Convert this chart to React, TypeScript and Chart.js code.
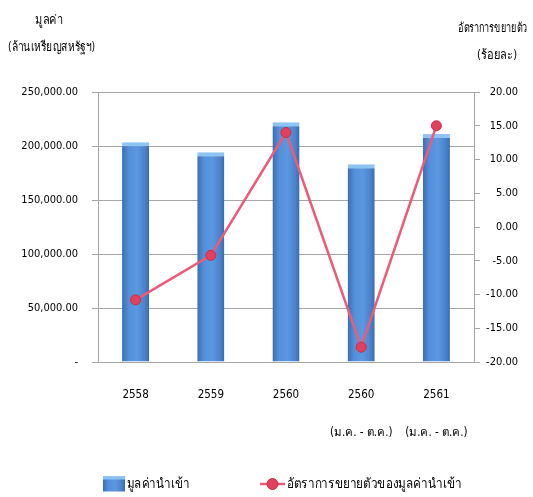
import React, { useEffect, useRef } from 'react';
import { Chart, registerables } from 'chart.js';

Chart.register(...registerables);

const categories: string[][] = [
  ['2558'],
  ['2559'],
  ['2560'],
  ['2560', '(ม.ค. - ต.ค.)'],
  ['2561', '(ม.ค. - ต.ค.)'],
];
const importValues = [203500, 194200, 221900, 183000, 211000];
const growthRates = [-10.8, -4.2, 14.0, -17.8, 15.0];

const barLabel = 'มูลค่านำเข้า';
const lineLabel = 'อัตราการขยายตัวของมูลค่านำเข้า';
const leftTitle = ['มูลค่า', '(ล้านเหรียญสหรัฐฯ)'];
const rightTitle = ['อัตราการขยายตัว', '(ร้อยละ)'];

const FONT = '"DejaVu Sans Condensed", "Liberation Sans Narrow", "Liberation Sans", sans-serif';
const TEXT = '#000000';
const GRID = '#a6a6a6';
const LINE = '#ee5a77';

function barGradient(c: CanvasRenderingContext2D, x0: number, x1: number) {
  const g = c.createLinearGradient(x0, 0, x1, 0);
  g.addColorStop(0, '#3a6db3');
  g.addColorStop(0.25, '#5490da');
  g.addColorStop(0.55, '#5b98e0');
  g.addColorStop(0.85, '#4a82cb');
  g.addColorStop(1, '#3a6aae');
  return g;
}

// draw text squeezed horizontally to a given width
function fitText(
  c: CanvasRenderingContext2D,
  text: string,
  x: number,
  y: number,
  width: number,
  align: 'left' | 'center'
) {
  const w = c.measureText(text).width;
  const sx = w > 0 ? width / w : 1;
  c.save();
  c.translate(x, y);
  c.scale(sx, 1);
  c.textAlign = align;
  c.fillText(text, 0, 0);
  c.restore();
}

const overlayPlugin = {
  id: 'overlay',
  afterDraw(chart: any) {
    const c: CanvasRenderingContext2D = chart.ctx;
    c.save();
    c.fillStyle = TEXT;
    c.textBaseline = 'middle';
    c.font = `13px ${FONT}`;
    fitText(c, leftTitle[0], 49, 21, 28, 'center');
    fitText(c, leftTitle[1], 51.5, 48, 87, 'center');
    fitText(c, rightTitle[0], 492.5, 29, 69, 'center');
    fitText(c, rightTitle[1], 497, 56, 40, 'center');

    // legend
    const ly = 484;
    c.fillStyle = barGradient(c, 103, 125);
    c.fillRect(103, ly - 7.5, 22, 15);
    c.fillStyle = '#8ec3f5';
    c.fillRect(103, ly - 7.5, 22, 3);
    c.fillStyle = TEXT;
    c.font = `14px ${FONT}`;
    fitText(c, barLabel, 127, ly, 63, 'left');

    c.strokeStyle = LINE;
    c.lineWidth = 2.5;
    c.beginPath();
    c.moveTo(260, ly);
    c.lineTo(285, ly);
    c.stroke();
    c.beginPath();
    c.arc(272.5, ly, 5.5, 0, Math.PI * 2);
    c.fillStyle = '#e3405e';
    c.fill();
    c.lineWidth = 1;
    c.strokeStyle = '#c42f4c';
    c.stroke();
    c.fillStyle = TEXT;
    fitText(c, lineLabel, 287, ly, 175, 'left');
    c.restore();
  },
};

export default function App() {
  const ref = useRef<HTMLCanvasElement | null>(null);

  useEffect(() => {
    if (!ref.current) return;
    const chart = new Chart(ref.current, {
      type: 'bar',
      data: {
        labels: categories,
        datasets: [
          {
            type: 'bar',
            label: barLabel,
            data: importValues,
            yAxisID: 'y',
            order: 1,
            backgroundColor: (ctx: any) => {
              const ch = ctx.chart;
              const el = ch.getDatasetMeta(0).data[ctx.dataIndex] as any;
              if (!el || el.x == null || isNaN(el.x) || !el.width) return '#5590d8';
              return barGradient(ch.ctx, el.x - el.width / 2, el.x + el.width / 2);
            },
            borderColor: '#8ec3f5',
            borderWidth: { top: 4, left: 0, right: 0, bottom: 0 },
            borderSkipped: 'bottom',
            barPercentage: 0.36,
            categoryPercentage: 1,
          },
          {
            type: 'line',
            label: lineLabel,
            data: growthRates,
            yAxisID: 'y1',
            order: 0,
            borderColor: LINE,
            borderWidth: 2.5,
            pointRadius: 5,
            pointBackgroundColor: '#e3405e',
            pointBorderColor: '#c42f4c',
            pointBorderWidth: 1,
            tension: 0,
          } as any,
        ],
      },
      options: {
        responsive: true,
        maintainAspectRatio: false,
        animation: false,
        layout: { padding: { top: 92, left: 0, right: 15, bottom: 0 } },
        plugins: {
          legend: { display: false },
          tooltip: { enabled: false },
        },
        scales: {
          x: {
            grid: { display: false, drawTicks: false },
            border: { display: true, color: GRID },
            ticks: {
              color: TEXT,
              padding: 14,
              maxRotation: 0,
              autoSkip: false,
              font: { family: FONT, size: 11.5, lineHeight: '38px' as any },
            },
            afterFit: (s: any) => {
              s.height = 135;
            },
          },
          y: {
            position: 'left',
            min: 0,
            max: 250000,
            grid: { color: GRID, lineWidth: 1, drawTicks: true, tickLength: 6, tickColor: GRID },
            border: { display: true, color: GRID },
            ticks: {
              stepSize: 50000,
              color: TEXT,
              padding: 14,
              font: { family: FONT, size: 11 },
              callback: (v: any) =>
                Number(v) === 0
                  ? '-'
                  : Number(v).toLocaleString('en-US', {
                      minimumFractionDigits: 2,
                      maximumFractionDigits: 2,
                    }),
            },
            afterFit: (s: any) => {
              s.width = 98;
            },
          },
          y1: {
            position: 'right',
            min: -20,
            max: 20,
            grid: { drawOnChartArea: false, drawTicks: true, tickLength: 6, color: GRID, tickColor: GRID },
            border: { display: true, color: GRID },
            ticks: {
              stepSize: 5,
              color: TEXT,
              padding: 8,
              crossAlign: 'far',
              font: { family: FONT, size: 11 },
              callback: (v: any) => Number(v).toFixed(2),
            },
            afterFit: (s: any) => {
              s.width = 44;
            },
          },
        },
      },
      plugins: [overlayPlugin],
    });
    chart.update();
    return () => chart.destroy();
  }, []);

  return (
    <div
      style={{
        position: 'fixed',
        left: 0,
        top: 0,
        width: 533,
        height: 497,
        background: '#ffffff',
      }}
    >
      <canvas ref={ref} />
    </div>
  );
}
